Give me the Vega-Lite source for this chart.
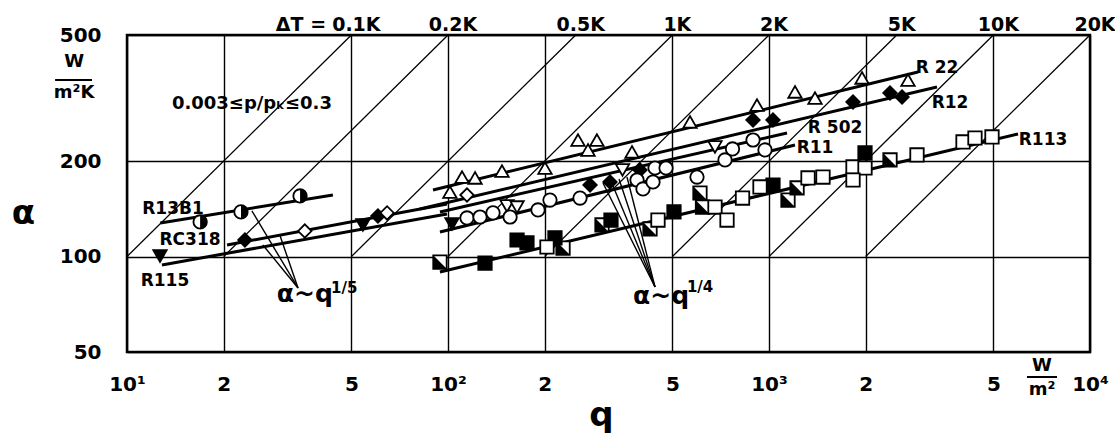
{
  "$schema": "https://vega.github.io/schema/vega-lite/v6.json",
  "width": 963,
  "height": 317,
  "autosize": {"type": "none"},
  "padding": {"left": 127, "top": 35, "right": 25, "bottom": 85},
  "background": "white",
  "config": {
    "view": {"stroke": "black", "strokeWidth": 2.5},
    "font": "DejaVu Sans",
    "text": {"font": "DejaVu Sans", "fontWeight": "bold", "color": "black"}
  },
  "datasets": {
    "diag": [
      {"dT": "0.1K", "q": 10, "a": 100, "q2": 50, "a2": 500},
      {"dT": "0.2K", "q": 20, "a": 100, "q2": 100, "a2": 500},
      {"dT": "0.5K", "q": 50, "a": 100, "q2": 250, "a2": 500},
      {"dT": "1K", "q": 100, "a": 100, "q2": 500, "a2": 500},
      {"dT": "2K", "q": 200, "a": 100, "q2": 1000, "a2": 500},
      {"dT": "5K", "q": 500, "a": 100, "q2": 2500, "a2": 500},
      {"dT": "10K", "q": 1000, "a": 100, "q2": 5000, "a2": 500},
      {"dT": "20K", "q": 2000, "a": 100, "q2": 10000, "a2": 500}
    ],
    "top": [
      {"t": "ΔT =", "q": 33.6, "a": 500},
      {"t": "0.1K", "q": 50, "a": 500},
      {"t": "0.2K", "q": 100, "a": 500},
      {"t": "0.5K", "q": 250, "a": 500},
      {"t": "1K", "q": 500, "a": 500},
      {"t": "2K", "q": 1000, "a": 500},
      {"t": "5K", "q": 2500, "a": 500},
      {"t": "10K", "q": 5000, "a": 500},
      {"t": "20K", "q": 10000, "a": 500}
    ],
    "fits": [
      {"s": "R13B1", "q": 12.7, "a": 127.6, "q2": 43.8, "a2": 156.4},
      {"s": "RC318", "q": 20.5, "a": 108.8, "q2": 99.3, "a2": 146.5},
      {"s": "R115", "q": 12.85, "a": 94.1, "q2": 99.3, "a2": 136.3},
      {"s": "R22", "q": 89.8, "a": 162.2, "q2": 2912, "a2": 382.2},
      {"s": "R12", "q": 81.8, "a": 141.3, "q2": 3337, "a2": 342.8},
      {"s": "R502", "q": 94.4, "a": 138.3, "q2": 1138, "a2": 245.4},
      {"s": "R11", "q": 94.4, "a": 119.5, "q2": 1205, "a2": 224.9},
      {"s": "R113", "q": 94.4, "a": 89.4, "q2": 5967, "a2": 243.6}
    ],
    "ptr": [
      {"q": 34.1, "a": 79.6, "q2": 24.5, "a2": 139.3},
      {"q": 34.1, "a": 79.6, "q2": 26.5, "a2": 108.8},
      {"q": 34.1, "a": 79.6, "q2": 30.0, "a2": 116.1},
      {"q": 441.5, "a": 80.2, "q2": 304, "a2": 170.7},
      {"q": 441.5, "a": 80.2, "q2": 321.9, "a2": 173.1},
      {"q": 441.5, "a": 80.2, "q2": 341, "a2": 175.7},
      {"q": 441.5, "a": 80.2, "q2": 361.1, "a2": 178.2}
    ],
    "pts": [
      {"s": "R22", "m": "tri_up_open", "q": 101.4, "a": 159.8},
      {"s": "R22", "m": "tri_up_open", "q": 110.6, "a": 178.2},
      {"s": "R22", "m": "tri_up_open", "q": 121.4, "a": 177},
      {"s": "R22", "m": "tri_up_open", "q": 147.3, "a": 186.2},
      {"s": "R22", "m": "tri_up_open", "q": 200.5, "a": 190.3},
      {"s": "R22", "m": "tri_up_open", "q": 254.1, "a": 233.2},
      {"s": "R22", "m": "tri_up_open", "q": 291, "a": 233.2},
      {"s": "R22", "m": "tri_up_open", "q": 273, "a": 216.9},
      {"s": "R22", "m": "tri_up_open", "q": 374.3, "a": 213.8},
      {"s": "R22", "m": "tri_up_open", "q": 567.4, "a": 265.9},
      {"s": "R22", "m": "tri_up_open", "q": 917.5, "a": 300.7},
      {"s": "R22", "m": "tri_up_open", "q": 1205, "a": 330.6},
      {"s": "R22", "m": "tri_up_open", "q": 1391, "a": 316.4},
      {"s": "R22", "m": "tri_up_open", "q": 1949, "a": 366},
      {"s": "R22", "m": "tri_up_open", "q": 2710, "a": 360.6},
      {"s": "R12", "m": "diamond_filled", "q": 277, "a": 168.2},
      {"s": "R12", "m": "diamond_filled", "q": 319.7, "a": 171.9},
      {"s": "R12", "m": "diamond_filled", "q": 396.4, "a": 187.6},
      {"s": "R12", "m": "diamond_filled", "q": 891.7, "a": 269.8},
      {"s": "R12", "m": "diamond_filled", "q": 1029, "a": 269.8},
      {"s": "R12", "m": "diamond_filled", "q": 1827, "a": 307.4},
      {"s": "R12", "m": "diamond_filled", "q": 2382, "a": 328.1},
      {"s": "R12", "m": "diamond_filled", "q": 2597, "a": 318.7},
      {"s": "R12", "m": "diamond_open", "q": 114.6, "a": 156.4},
      {"s": "RC318", "m": "diamond_filled", "q": 23.3, "a": 112.8},
      {"s": "RC318", "m": "diamond_filled", "q": 60.5, "a": 134.3},
      {"s": "RC318", "m": "diamond_open", "q": 35.8, "a": 120.4},
      {"s": "RC318", "m": "diamond_open", "q": 64.6, "a": 137.3},
      {"s": "R115", "m": "tri_down_filled", "q": 12.67, "a": 100.4},
      {"s": "R115", "m": "tri_down_filled", "q": 54.3, "a": 125.8},
      {"s": "R115", "m": "tri_down_filled", "q": 102.9, "a": 126.7},
      {"s": "R13B1", "m": "circle_half", "q": 16.9, "a": 128.6},
      {"s": "R13B1", "m": "circle_half", "q": 22.65, "a": 138.3},
      {"s": "R13B1", "m": "circle_half", "q": 34.6, "a": 155.3},
      {"s": "R502", "m": "tri_down_open", "q": 152.7, "a": 144.4},
      {"s": "R502", "m": "tri_down_open", "q": 164.1, "a": 143.3},
      {"s": "R502", "m": "tri_down_open", "q": 349.7, "a": 187.6},
      {"s": "R502", "m": "tri_down_open", "q": 678.8, "a": 221.7},
      {"s": "R11", "m": "circle_open", "q": 114.6, "a": 132.4},
      {"s": "R11", "m": "circle_open", "q": 125.8, "a": 133.3},
      {"s": "R11", "m": "circle_open", "q": 138.1, "a": 137.3},
      {"s": "R11", "m": "circle_open", "q": 156.1, "a": 133.3},
      {"s": "R11", "m": "circle_open", "q": 190.7, "a": 140.3},
      {"s": "R11", "m": "circle_open", "q": 207.8, "a": 150.8},
      {"s": "R11", "m": "circle_open", "q": 257.8, "a": 153},
      {"s": "R11", "m": "circle_open", "q": 388, "a": 174.4},
      {"s": "R11", "m": "circle_open", "q": 405, "a": 163.4},
      {"s": "R11", "m": "circle_open", "q": 441.5, "a": 190.3},
      {"s": "R11", "m": "circle_open", "q": 477.8, "a": 190.3},
      {"s": "R11", "m": "circle_open", "q": 435.2, "a": 171.9},
      {"s": "R11", "m": "circle_open", "q": 596.6, "a": 178.2},
      {"s": "R11", "m": "circle_open", "q": 729.4, "a": 201.7},
      {"s": "R11", "m": "circle_open", "q": 769.7, "a": 218.5},
      {"s": "R11", "m": "circle_open", "q": 891.7, "a": 233.2},
      {"s": "R11", "m": "circle_open", "q": 971.6, "a": 216.9},
      {"s": "R113", "m": "square_half", "q": 94.4, "a": 96.1},
      {"s": "R113", "m": "square_half", "q": 228.2, "a": 106.4},
      {"s": "R113", "m": "square_half", "q": 301.8, "a": 125.8},
      {"s": "R113", "m": "square_half", "q": 425.9, "a": 122.2},
      {"s": "R113", "m": "square_half", "q": 609.5, "a": 158.7},
      {"s": "R113", "m": "square_half", "q": 620.6, "a": 143.3},
      {"s": "R113", "m": "square_half", "q": 1146, "a": 150.8},
      {"s": "R113", "m": "square_half", "q": 1223, "a": 164.6},
      {"s": "R113", "m": "square_half", "q": 2382, "a": 201.7},
      {"s": "R113", "m": "square_filled", "q": 130.4, "a": 95.4},
      {"s": "R113", "m": "square_filled", "q": 164.1, "a": 112.8},
      {"s": "R113", "m": "square_filled", "q": 176.2, "a": 110.4},
      {"s": "R113", "m": "square_filled", "q": 215.4, "a": 114.5},
      {"s": "R113", "m": "square_filled", "q": 321.9, "a": 130.4},
      {"s": "R113", "m": "square_filled", "q": 505.8, "a": 138.3},
      {"s": "R113", "m": "square_filled", "q": 1029, "a": 168.2},
      {"s": "R113", "m": "square_filled", "q": 1991, "a": 212.3},
      {"s": "R113", "m": "square_open", "q": 203.4, "a": 107.2},
      {"s": "R113", "m": "square_open", "q": 451, "a": 130.4},
      {"s": "R113", "m": "square_open", "q": 678.8, "a": 143.3},
      {"s": "R113", "m": "square_open", "q": 740, "a": 130.4},
      {"s": "R113", "m": "square_open", "q": 827, "a": 153},
      {"s": "R113", "m": "square_open", "q": 937.5, "a": 165.8},
      {"s": "R113", "m": "square_open", "q": 1323, "a": 177},
      {"s": "R113", "m": "square_open", "q": 1473, "a": 178.2},
      {"s": "R113", "m": "square_open", "q": 1827, "a": 191.7},
      {"s": "R113", "m": "square_open", "q": 1991, "a": 190.3},
      {"s": "R113", "m": "square_open", "q": 1827, "a": 174.4},
      {"s": "R113", "m": "square_open", "q": 2891, "a": 209.2},
      {"s": "R113", "m": "square_open", "q": 4022, "a": 229.9},
      {"s": "R113", "m": "square_open", "q": 4382, "a": 236.6},
      {"s": "R113", "m": "square_open", "q": 4951, "a": 238.4}
    ],
    "rlab": [
      {"t": "R13B1", "q": 13.91, "a": 141.3},
      {"t": "RC318", "q": 15.72, "a": 112.8},
      {"t": "R115", "q": 13.13, "a": 83.8},
      {"t": "R 22", "q": 3337, "a": 393.5},
      {"t": "R12", "q": 3664, "a": 305.1},
      {"t": "R 502", "q": 1606, "a": 254.5},
      {"t": "R11", "q": 1391, "a": 220.1},
      {"t": "R113", "q": 7139, "a": 233.2}
    ],
    "law": [
      {"t": "α~q", "q": 35.8, "a": 71.9},
      {"t": "α~q", "q": 461, "a": 70.8}
    ],
    "exp": [
      {"t": "1/5", "q": 47.5, "a": 79.5},
      {"t": "1/4", "q": 610, "a": 80}
    ],
    "units": [
      {"t": "W", "q": 6.84, "a": 411},
      {"t": "m²K", "q": 6.84, "a": 328.1},
      {"t": "W", "q": 7088, "a": 45.2},
      {"t": "m²", "q": 7088, "a": 37.9}
    ],
    "bars": [
      {"q": 5.97, "q2": 7.78, "a": 360.6},
      {"q": 6364, "q2": 7893, "a": 41.7}
    ]
  },
  "layer": [
    {
      "data": {"name": "diag"},
      "mark": {"type": "rule", "stroke": "black", "strokeWidth": 1.3},
      "encoding": {
        "x": {
          "field": "q", "type": "quantitative",
          "scale": {"type": "log", "domain": [10, 10000], "nice": false},
          "axis": {
            "values": [10, 20, 50, 100, 200, 500, 1000, 2000, 5000, 10000],
            "labelExpr": "round(datum.value) == 10 ? '10¹' : round(datum.value) == 100 ? '10²' : round(datum.value) == 1000 ? '10³' : round(datum.value) == 10000 ? '10⁴' : (round(datum.value) == 20 || round(datum.value) == 200 || round(datum.value) == 2000) ? '2' : '5'",
            "grid": true, "gridColor": "black", "gridWidth": 1.4, "gridOpacity": 1,
            "ticks": false, "domain": false,
            "labelFont": "DejaVu Sans", "labelFontSize": 20, "labelFontWeight": "bold", "labelColor": "black",
            "labelPadding": 22, "labelFlush": false, "labelOverlap": false,
            "title": "q", "titleFont": "DejaVu Sans", "titleFontSize": 34, "titleFontWeight": "bold", "titleColor": "black",
            "titleX": 474, "titleY": 73, "titleBaseline": "alphabetic", "titleAlign": "center"
          }
        },
        "y": {
          "field": "a", "type": "quantitative",
          "scale": {"type": "log", "domain": [50, 500], "nice": false},
          "axis": {
            "values": [50, 100, 200, 500], "format": "d",
            "grid": true, "gridColor": "black", "gridWidth": 1.4, "gridOpacity": 1,
            "ticks": false, "domain": false,
            "labelFont": "DejaVu Sans", "labelFontSize": 20, "labelFontWeight": "bold", "labelColor": "black",
            "labelPadding": 26, "labelFlush": false, "labelOverlap": false,
            "title": "α", "titleFont": "DejaVu Sans", "titleFontSize": 34, "titleFontWeight": "bold", "titleColor": "black",
            "titleAngle": 0, "titleX": -104, "titleY": 178, "titleAlign": "center", "titleBaseline": "middle"
          }
        },
        "x2": {"field": "q2"},
        "y2": {"field": "a2"}
      }
    },
    {
      "data": {"name": "top"},
      "mark": {"type": "text", "fontSize": 19, "baseline": "alphabetic", "align": "center", "dx": 5, "dy": -4},
      "encoding": {
        "x": {"field": "q", "type": "quantitative"},
        "y": {"field": "a", "type": "quantitative"},
        "text": {"field": "t"}
      }
    },
    {
      "data": {"name": "fits"},
      "mark": {"type": "rule", "stroke": "black", "strokeWidth": 3},
      "encoding": {
        "x": {"field": "q", "type": "quantitative"},
        "y": {"field": "a", "type": "quantitative"},
        "x2": {"field": "q2"},
        "y2": {"field": "a2"}
      }
    },
    {
      "data": {"name": "ptr"},
      "mark": {"type": "rule", "stroke": "black", "strokeWidth": 1.4},
      "encoding": {
        "x": {"field": "q", "type": "quantitative"},
        "y": {"field": "a", "type": "quantitative"},
        "x2": {"field": "q2"},
        "y2": {"field": "a2"}
      }
    },
    {
      "data": {"name": "pts"},
      "mark": {"type": "point", "filled": true, "size": 180, "stroke": "black", "strokeWidth": 1.8, "opacity": 1},
      "encoding": {
        "x": {"field": "q", "type": "quantitative"},
        "y": {"field": "a", "type": "quantitative"},
        "shape": {
          "field": "m", "type": "nominal", "legend": null,
          "scale": {
            "domain": ["tri_up_open", "diamond_filled", "diamond_open", "tri_down_open", "tri_down_filled", "circle_open", "circle_half", "square_open", "square_filled", "square_half"],
            "range": ["triangle-up", "diamond", "diamond", "triangle-down", "triangle-down", "circle", "circle", "square", "square", "square"]
          }
        },
        "fill": {
          "field": "m", "type": "nominal", "legend": null,
          "scale": {
            "domain": ["tri_up_open", "diamond_filled", "diamond_open", "tri_down_open", "tri_down_filled", "circle_open", "circle_half", "square_open", "square_filled", "square_half"],
            "range": ["white", "black", "white", "white", "black", "white", "white", "white", "black", "white"]
          }
        }
      }
    },
    {
      "data": {"name": "pts"},
      "transform": [{"filter": "datum.m == 'circle_half'"}],
      "mark": {"type": "point", "shape": "M0,-1A1,1 0 0,1 0,1Z", "filled": true, "fill": "black", "size": 180, "strokeWidth": 0, "opacity": 1},
      "encoding": {
        "x": {"field": "q", "type": "quantitative"},
        "y": {"field": "a", "type": "quantitative"}
      }
    },
    {
      "data": {"name": "pts"},
      "transform": [{"filter": "datum.m == 'square_half'"}],
      "mark": {"type": "point", "shape": "M-1,-1L-1,1L1,1Z", "filled": true, "fill": "black", "size": 180, "strokeWidth": 0, "opacity": 1},
      "encoding": {
        "x": {"field": "q", "type": "quantitative"},
        "y": {"field": "a", "type": "quantitative"}
      }
    },
    {
      "data": {"name": "rlab"},
      "mark": {"type": "text", "fontSize": 17, "baseline": "middle", "align": "center"},
      "encoding": {
        "x": {"field": "q", "type": "quantitative"},
        "y": {"field": "a", "type": "quantitative"},
        "text": {"field": "t"}
      }
    },
    {
      "data": {"values": [{"t": "0.003≤p/pₖ≤0.3", "q": 24.5, "a": 302.9}]},
      "mark": {"type": "text", "fontSize": 18, "baseline": "middle", "align": "center"},
      "encoding": {
        "x": {"field": "q", "type": "quantitative"},
        "y": {"field": "a", "type": "quantitative"},
        "text": {"field": "t"}
      }
    },
    {
      "data": {"name": "law"},
      "mark": {"type": "text", "fontSize": 25, "baseline": "alphabetic", "align": "center"},
      "encoding": {
        "x": {"field": "q", "type": "quantitative"},
        "y": {"field": "a", "type": "quantitative"},
        "text": {"field": "t"}
      }
    },
    {
      "data": {"name": "exp"},
      "mark": {"type": "text", "fontSize": 15, "baseline": "middle", "align": "center"},
      "encoding": {
        "x": {"field": "q", "type": "quantitative"},
        "y": {"field": "a", "type": "quantitative"},
        "text": {"field": "t"}
      }
    },
    {
      "data": {"name": "units"},
      "mark": {"type": "text", "fontSize": 18, "baseline": "middle", "align": "center"},
      "encoding": {
        "x": {"field": "q", "type": "quantitative"},
        "y": {"field": "a", "type": "quantitative"},
        "text": {"field": "t"}
      }
    },
    {
      "data": {"name": "bars"},
      "mark": {"type": "rule", "stroke": "black", "strokeWidth": 2},
      "encoding": {
        "x": {"field": "q", "type": "quantitative"},
        "y": {"field": "a", "type": "quantitative"},
        "x2": {"field": "q2"}
      }
    }
  ]
}
